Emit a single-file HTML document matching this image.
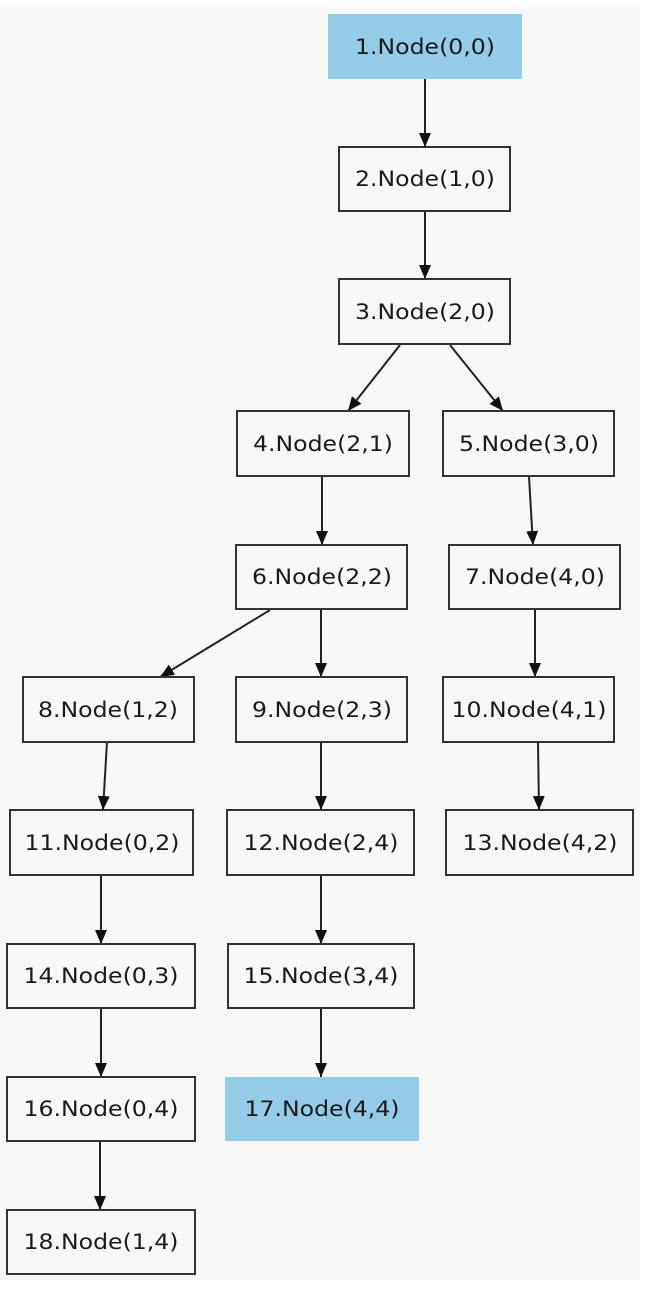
<!DOCTYPE html>
<html><head><style>
html,body{margin:0;padding:0;background:#fff;}
svg{display:block;}
text{font-family:"DejaVu Sans","Liberation Sans",sans-serif;font-size:21px;fill:#1a1a1a;}
</style></head><body>
<svg width="648" height="1294" viewBox="0 0 648 1294" xmlns="http://www.w3.org/2000/svg">
<defs><marker id="a" markerWidth="14" markerHeight="14" refX="14" refY="7" orient="auto" markerUnits="userSpaceOnUse"><path d="M0,1 L14,7 L0,13 Z" fill="#111"/></marker></defs>
<rect x="0" y="7" width="640" height="1273" fill="#f7f7f7"/>
<g stroke="#222" stroke-width="2" fill="none" marker-end="url(#a)">
<line x1="425" y1="79" x2="425" y2="147"/>
<line x1="425" y1="211" x2="425" y2="279"/>
<line x1="400" y1="345" x2="348" y2="411"/>
<line x1="450" y1="345" x2="503" y2="411"/>
<line x1="322" y1="477" x2="322" y2="545"/>
<line x1="529" y1="477" x2="533" y2="545"/>
<line x1="270" y1="610" x2="160" y2="677"/>
<line x1="321" y1="610" x2="321" y2="677"/>
<line x1="535" y1="610" x2="535" y2="677"/>
<line x1="538" y1="742" x2="539" y2="810"/>
<line x1="107" y1="742" x2="103" y2="810"/>
<line x1="321" y1="742" x2="321" y2="810"/>
<line x1="101" y1="875" x2="101" y2="944"/>
<line x1="321" y1="875" x2="321" y2="944"/>
<line x1="101" y1="1008" x2="101" y2="1077"/>
<line x1="321" y1="1008" x2="321" y2="1077"/>
<line x1="100" y1="1141" x2="100" y2="1210"/>
</g>
<g stroke="#333" stroke-width="2" fill="#f7f7f7">
<rect x="339" y="147" width="171" height="64"/>
<rect x="339" y="279" width="171" height="65"/>
<rect x="237" y="411" width="172" height="65"/>
<rect x="443" y="411" width="171" height="65"/>
<rect x="236" y="545" width="171" height="64"/>
<rect x="449" y="545" width="171" height="64"/>
<rect x="23" y="677" width="171" height="65"/>
<rect x="236" y="677" width="171" height="65"/>
<rect x="443" y="677" width="171" height="65"/>
<rect x="10" y="810" width="183" height="65"/>
<rect x="227" y="810" width="187" height="65"/>
<rect x="446" y="810" width="187" height="65"/>
<rect x="7" y="944" width="188" height="64"/>
<rect x="228" y="944" width="186" height="64"/>
<rect x="7" y="1077" width="188" height="64"/>
<rect x="7" y="1210" width="188" height="64"/>
</g>
<rect x="328" y="14" width="194" height="65" fill="#94cbe6"/>
<rect x="225" y="1077" width="194" height="64" fill="#94cbe6"/>
<g text-anchor="middle" dominant-baseline="central" lengthAdjust="spacingAndGlyphs">
<text x="425" y="47" textLength="140" lengthAdjust="spacingAndGlyphs">1.Node(0,0)</text>
<text x="425" y="179" textLength="140" lengthAdjust="spacingAndGlyphs">2.Node(1,0)</text>
<text x="425" y="312" textLength="140" lengthAdjust="spacingAndGlyphs">3.Node(2,0)</text>
<text x="323" y="444" textLength="140" lengthAdjust="spacingAndGlyphs">4.Node(2,1)</text>
<text x="529" y="444" textLength="140" lengthAdjust="spacingAndGlyphs">5.Node(3,0)</text>
<text x="322" y="577" textLength="140" lengthAdjust="spacingAndGlyphs">6.Node(2,2)</text>
<text x="535" y="577" textLength="140" lengthAdjust="spacingAndGlyphs">7.Node(4,0)</text>
<text x="108" y="710" textLength="140" lengthAdjust="spacingAndGlyphs">8.Node(1,2)</text>
<text x="322" y="710" textLength="140" lengthAdjust="spacingAndGlyphs">9.Node(2,3)</text>
<text x="529" y="710" textLength="155" lengthAdjust="spacingAndGlyphs">10.Node(4,1)</text>
<text x="102" y="843" textLength="155" lengthAdjust="spacingAndGlyphs">11.Node(0,2)</text>
<text x="321" y="843" textLength="155" lengthAdjust="spacingAndGlyphs">12.Node(2,4)</text>
<text x="540" y="843" textLength="155" lengthAdjust="spacingAndGlyphs">13.Node(4,2)</text>
<text x="101" y="976" textLength="155" lengthAdjust="spacingAndGlyphs">14.Node(0,3)</text>
<text x="321" y="976" textLength="155" lengthAdjust="spacingAndGlyphs">15.Node(3,4)</text>
<text x="101" y="1109" textLength="155" lengthAdjust="spacingAndGlyphs">16.Node(0,4)</text>
<text x="322" y="1109" textLength="155" lengthAdjust="spacingAndGlyphs">17.Node(4,4)</text>
<text x="101" y="1242" textLength="155" lengthAdjust="spacingAndGlyphs">18.Node(1,4)</text>
</g>
</svg>
</body></html>
